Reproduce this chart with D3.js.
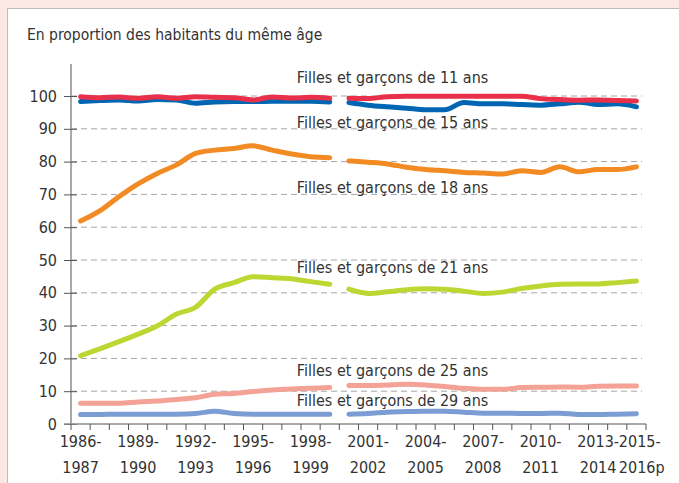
<!DOCTYPE html>
<html>
<head>
<meta charset="utf-8">
<script src="https://cdn.jsdelivr.net/npm/d3@7"></script>
<style>
  body { margin: 0; background: #fbe8e4; }
  svg text { font-family: "Liberation Sans Narrow", "DejaVu Sans Condensed", "Roboto", sans-serif; fill: #333; }
</style>
</head>
<body>
<div id="chart"></div>
<script>
// school years, one point per year
var years = ["1986-1987","1987-1988","1988-1989","1989-1990","1990-1991","1991-1992","1992-1993","1993-1994",
  "1994-1995","1995-1996","1996-1997","1997-1998","1998-1999","1999-2000","2000-2001","2001-2002","2002-2003",
  "2003-2004","2004-2005","2005-2006","2006-2007","2007-2008","2008-2009","2009-2010","2010-2011","2011-2012",
  "2012-2013","2013-2014","2014-2015","2015-2016p"];
var breakAfter = "1999-2000"; // series break (change of method)

var ans11 = [99.8,99.5,99.7,99.3,99.8,99.3,99.8,99.6,99.5,98.8,99.7,99.4,99.6,99.3,
  99.3,99.2,99.8,99.9,99.9,99.9,99.9,99.9,99.9,99.9,99.2,98.9,98.7,98.8,98.6,98.5];
var ans15 = [98.3,98.6,98.8,98.5,98.9,98.8,97.8,98.2,98.3,98.3,98.4,98.4,98.4,98.2,
  98.0,97.2,96.7,96.3,95.8,95.8,98.0,97.6,97.6,97.4,97.2,97.6,98.1,97.4,97.6,96.7];
var ans18 = [61.9,65.0,69.3,73.2,76.4,79.0,82.5,83.5,84.0,84.8,83.5,82.3,81.5,81.2,
  80.2,79.8,79.3,78.3,77.6,77.2,76.7,76.5,76.2,77.2,76.7,78.4,76.9,77.6,77.6,78.4];
var ans21 = [20.8,22.9,25.1,27.4,29.9,33.5,35.6,41.1,43.1,44.9,44.6,44.3,43.4,42.6,
  41.1,39.8,40.3,40.9,41.2,41.1,40.5,39.8,40.2,41.3,42.1,42.6,42.7,42.7,43.1,43.6];
var ans25 = [6.3,6.3,6.3,6.7,7.0,7.5,8.0,9.1,9.3,9.9,10.4,10.7,10.9,11.1,
  11.7,11.7,11.9,12.1,11.9,11.4,10.9,10.6,10.6,11.1,11.2,11.3,11.2,11.5,11.6,11.6];
var ans29 = [2.9,2.9,3.0,3.0,3.0,3.0,3.2,3.9,3.2,3.0,3.0,3.0,3.0,3.0,
  3.0,3.2,3.6,3.8,3.9,3.9,3.6,3.3,3.3,3.2,3.2,3.3,2.9,2.9,3.0,3.1];

var seriesNames = ["Filles et garçons de 11 ans","Filles et garçons de 15 ans","Filles et garçons de 18 ans",
  "Filles et garçons de 21 ans","Filles et garçons de 25 ans","Filles et garçons de 29 ans"];
var seriesValues = [ans11, ans15, ans18, ans21, ans25, ans29];
var seriesColors = ["#e8304a","#0066b3","#f28b24","#bdd631","#f4a296","#7b9dd4"];
var labelAt = [104, 90.1, 70.3, 45.9, 14.7, 5.6]; // label baselines, in % units
var labelYear = "1997-1998";
var yTicks = [0,10,20,30,40,50,60,70,80,90,100];
var xLabelYears = ["1986-1987","1989-1990","1992-1993","1995-1996","1998-1999","2001-2002",
  "2004-2005","2007-2008","2010-2011","2013-2014","2015-2016p"];

var width = 679, height = 483;
var fs = "16px";
var svg = d3.select("#chart").append("svg").attr("width", width).attr("height", height);

// white panel
svg.append("rect").attr("x", 7.5).attr("y", 8.5).attr("width", 700).attr("height", 500)
  .attr("fill", "#fff").attr("stroke", "#bdbdbd");

svg.append("text").attr("x", 27).attr("y", 40).style("font-size", "15.5px")
  .text("En proportion des habitants du même âge");

var x = d3.scaleBand().domain(years).range([71, 646]);
var y = d3.scaleLinear().domain([0, 100]).range([424, 96]);

// dashed grid
svg.selectAll(".grid").data(yTicks.filter(function (d) { return d > 0; })).enter()
  .append("line").attr("class", "grid")
  .attr("x1", 71).attr("x2", 642)
  .attr("y1", function (d) { return y(d); }).attr("y2", function (d) { return y(d); })
  .attr("stroke", "#a6a6a6").attr("stroke-dasharray", "6,4").attr("stroke-width", 1);

// y axis
var yAxis = svg.append("g").attr("transform", "translate(71,0)")
  .call(d3.axisLeft(y).tickValues(yTicks).tickSize(7).tickFormat(d3.format("d")));
yAxis.select(".domain").attr("stroke", "#8c8c8c").attr("stroke-width", 1.5).attr("d", "M0,424V64");
yAxis.selectAll(".tick line").attr("stroke", "#555").attr("x2", 6).attr("x1", -7);
yAxis.selectAll(".tick text").attr("x", -14).style("font-size", fs).attr("fill", "#333");

// x axis with ticks between years
var xAxis = svg.append("g").attr("transform", "translate(0,424)");
xAxis.append("line").attr("x1", 64).attr("x2", 646).attr("stroke", "#8c8c8c").attr("stroke-width", 1.5);
var bounds = years.map(function (d) { return x(d); }).concat([x.range()[1]]);
xAxis.selectAll(".xt").data(bounds).enter().append("line")
  .attr("x1", function (d) { return d; }).attr("x2", function (d) { return d; })
  .attr("y1", 0).attr("y2", 6).attr("stroke", "#555");
var last = xLabelYears[xLabelYears.length - 1];
var xl = xAxis.selectAll(".xl").data(xLabelYears).enter().append("text")
  .attr("text-anchor", function (d) { return d === last ? "start" : "middle"; })
  .style("font-size", fs)
  .attr("transform", function (d) {
    var cx = x(d) + x.bandwidth() / 2;
    if (d === last) cx = x(d) - 8;
    return "translate(" + cx + ",0)";
  });
xl.append("tspan").attr("x", 0).attr("y", 23).text(function (d) { return d.split("-")[0] + "-"; });
xl.append("tspan").attr("x", 0).attr("y", 49).text(function (d) { return d.split("-")[1]; });

// lines, drawn in two pieces around the break
var line = d3.line()
  .x(function (d) { return x(d.year) + x.bandwidth() / 2; })
  .y(function (d) { return y(d.v); })
  .curve(d3.curveMonotoneX);
var cut = years.indexOf(breakAfter) + 1;

seriesValues.slice().reverse().forEach(function (vals, k) {
  var i = seriesValues.length - 1 - k;
  var pts = vals.map(function (v, j) { return { year: years[j], v: v }; });
  [pts.slice(0, cut), pts.slice(cut)].forEach(function (seg) {
    svg.append("path").datum(seg).attr("d", line)
      .attr("fill", "none").attr("stroke", seriesColors[i]).attr("stroke-width", 5)
      .attr("stroke-linecap", "round").attr("stroke-linejoin", "round");
  });
});

svg.selectAll(".lab").data(seriesNames).enter().append("text")
  .attr("x", x(labelYear) + 15).attr("y", function (d, i) { return y(labelAt[i]); })
  .style("font-size", fs).text(function (d) { return d; });
</script>
</body>
</html>
